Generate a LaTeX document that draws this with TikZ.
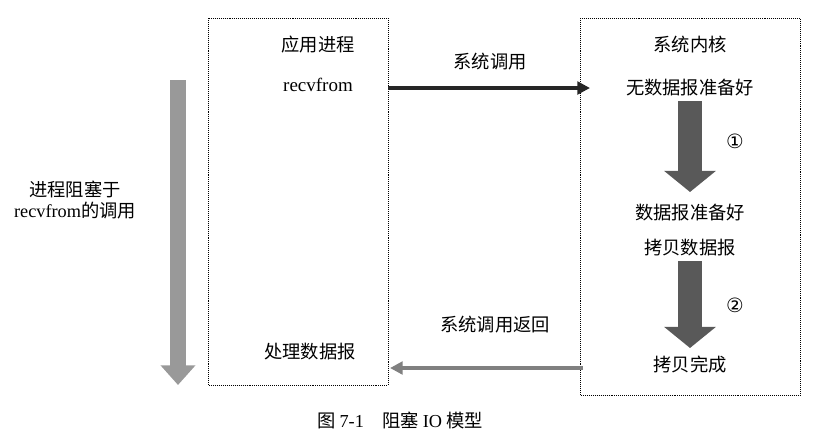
\documentclass[tikz,border=0pt]{standalone}
\usepackage{fontspec}
\setmainfont{Liberation Serif}
\newfontfamily\cjk{Noto Sans CJK SC}
\newfontfamily\symb{DejaVu Sans}
\usetikzlibrary{arrows.meta}

\begin{document}
\begin{tikzpicture}[x=0.025cm,y=-0.025cm,
lbl/.style={font=\cjk\fontsize{13}{15}\selectfont,inner sep=1pt},
pane/.style={draw=black,densely dotted,thin},
callarrow/.style={-{Triangle[length=9pt,width=9pt]},line width=2.5pt},
blockarrow/.style={-{Triangle[length=15pt,width=36pt]},line width=17pt,gray!70!black}]
\useasboundingbox (0,0) rectangle (820,441);
\draw[pane] (208,18) rectangle (388,385);
\draw[pane] (580,18) rectangle (800,395);
\node[lbl] (app) at (318,45) {应用进程};
\node[lbl,font=\fontsize{13.5}{15}\selectfont] (recv) at (318,85) {recvfrom};
\node[lbl] (kern) at (690,45) {系统内核};
\node[lbl] (nodata) at (690,88) {无数据报准备好};
\node[lbl] (ready) at (690,213) {数据报准备好};
\node[lbl] (copy) at (690,248) {拷贝数据报};
\node[lbl] (done) at (690,365) {拷贝完成};
\node[lbl] (proc) at (310,352) {处理数据报};
\node[lbl,align=center] (block) at (75,200) {进程阻塞于\\{\rmfamily recvfrom}的调用};
\node[lbl] (call) at (490,62) {系统调用};
\node[lbl] (ret) at (495,325) {系统调用返回};
\node[lbl,font=\symb\fontsize{14}{16}\selectfont] (one) at (735,141) {①};
\node[lbl,font=\symb\fontsize{14}{16}\selectfont] (two) at (735,305) {②};
\node[lbl] (cap) at (400,420) {图 {\rmfamily 7-1}\quad 阻塞 {\rmfamily IO} 模型};
\coordinate (c1) at (388,88);
\coordinate (c2) at (590,88);
\coordinate (r1) at (583,368);
\coordinate (r2) at (390,368);
\coordinate (w1) at (178,80);
\coordinate (w2) at (178,385);
\draw[callarrow,black!85] (c1) -- (c2);
\draw[callarrow,gray] (r1) -- (r2);
\draw[blockarrow] (nodata.south) ++(0,3) -- (690,192);
\draw[blockarrow] (copy.south) ++(0,3) -- (690,348);
\draw[-{Triangle[length=14pt,width=24pt]},line width=11pt,gray!80] (w1) -- (w2);
\end{tikzpicture}
\end{document}
